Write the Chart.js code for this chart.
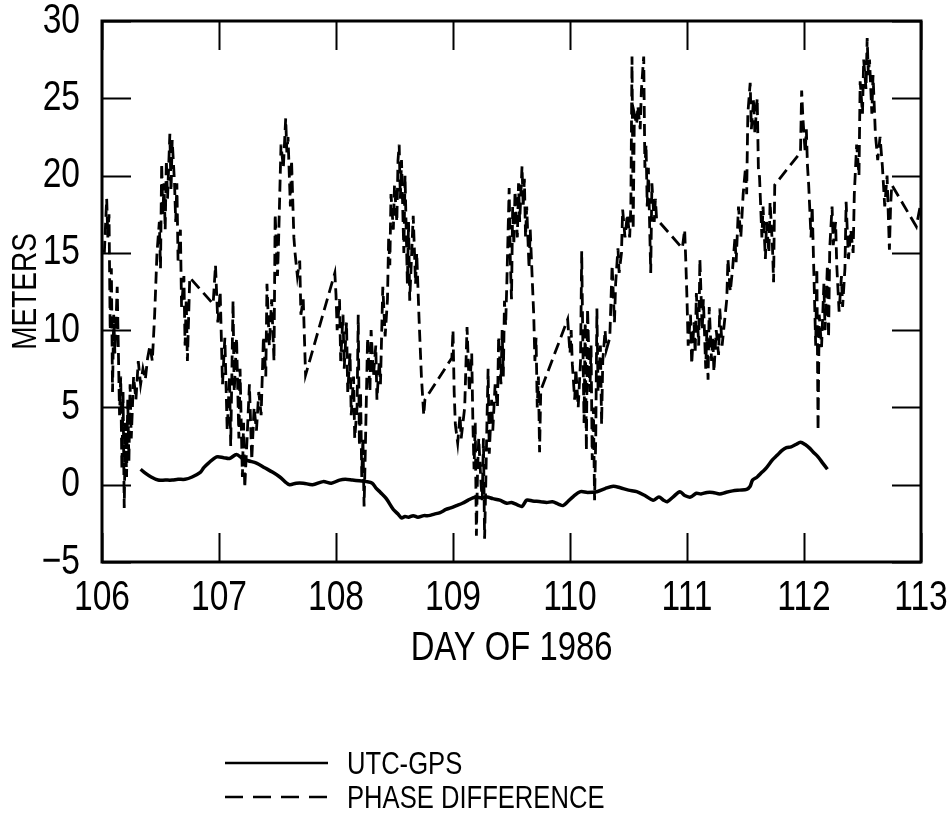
<!DOCTYPE html>
<html>
<head>
<meta charset="utf-8">
<script src="https://cdn.jsdelivr.net/npm/chart.js@4.4.0/dist/chart.umd.min.js"></script>
<style>
html,body{margin:0;padding:0;background:#fff;}
#wrap{position:relative;width:948px;height:820px;}
#legend{position:absolute;left:225px;top:746px;font-family:"Liberation Sans",Arial,sans-serif;font-size:32px;color:#000;}
#legend .row{display:flex;align-items:center;height:34px;}
#legend svg{display:block;margin-right:19px;flex:none;}
#legend span{display:inline-block;line-height:34px;white-space:nowrap;transform:scaleX(0.8);transform-origin:0 50%;}
</style>
</head>
<body>
<div id="wrap">
<canvas id="c" width="948" height="820"></canvas>
<div id="legend"></div>
</div>
<script>
const FONT = '"Liberation Sans", Arial, sans-serif';
const TEXT_SCALE_X = 0.8;

const xTickValues = [106, 107, 108, 109, 110, 111, 112, 113];
const yTickValues = [-5, 0, 5, 10, 15, 20, 25, 30];

const seriesNames = ['UTC-GPS', 'PHASE DIFFERENCE'];

const utcDays = [106.33,106.37,106.42,106.48,106.54,106.60,106.65,106.71,106.77,106.84,106.87,106.91,106.98,107.04,107.09,107.15,107.20,107.25,107.32,107.39,107.46,107.52,107.60,107.66,107.72,107.80,107.89,107.96,108.03,108.08,108.14,108.20,108.26,108.31,108.34,108.38,108.43,108.49,108.53,108.56,108.59,108.62,108.66,108.70,108.75,108.79,108.84,108.89,108.94,108.98,109.03,109.08,109.13,109.17,109.20,109.24,109.29,109.34,109.40,109.46,109.50,109.55,109.59,109.63,109.68,109.75,109.80,109.85,109.90,109.94,109.98,110.03,110.09,110.15,110.23,110.30,110.37,110.43,110.50,110.57,110.64,110.71,110.76,110.80,110.83,110.88,110.94,110.98,111.03,111.08,111.12,111.17,111.22,111.28,111.33,111.39,111.45,111.51,111.54,111.56,111.60,111.64,111.68,111.73,111.77,111.81,111.85,111.89,111.93,111.97,112.01,112.05,112.08,112.12,112.16,112.20];
const utcValues = [1.0,0.75,0.5,0.3,0.3,0.3,0.35,0.35,0.5,0.8,1.1,1.4,1.8,1.75,1.7,1.95,1.7,1.55,1.4,1.1,0.8,0.5,0.0,0.1,0.1,0.0,0.2,0.1,0.3,0.35,0.3,0.25,0.2,0.1,-0.2,-0.5,-0.9,-1.6,-1.9,-2.15,-2.05,-2.1,-2.0,-2.1,-2.0,-2.0,-1.9,-1.8,-1.6,-1.5,-1.35,-1.2,-1.0,-0.85,-0.8,-0.85,-0.8,-0.9,-1.0,-1.2,-1.15,-1.3,-1.4,-1.0,-1.05,-1.1,-1.15,-1.1,-1.25,-1.35,-1.1,-0.75,-0.45,-0.5,-0.45,-0.25,-0.1,-0.2,-0.35,-0.45,-0.7,-1.0,-0.8,-1.0,-1.1,-0.8,-0.45,-0.7,-0.8,-0.55,-0.6,-0.5,-0.5,-0.6,-0.5,-0.4,-0.35,-0.3,-0.1,0.3,0.5,0.8,1.1,1.6,1.9,2.2,2.4,2.45,2.6,2.75,2.6,2.35,2.1,1.8,1.4,1.0];

const phaseDays = [106.02,106.04,106.05,106.06,106.07,106.08,106.09,106.10,106.11,106.13,106.15,106.16,106.17,106.18,106.19,106.20,106.21,106.22,106.23,106.24,106.25,106.27,106.29,106.31,106.33,106.35,106.37,106.39,106.41,106.43,106.45,106.47,106.49,106.50,106.51,106.52,106.53,106.54,106.55,106.56,106.58,106.59,106.60,106.62,106.63,106.64,106.65,106.67,106.68,106.70,106.71,106.72,106.73,106.75,
106.95,106.97,106.99,107.01,107.03,107.05,107.07,107.09,107.10,107.12,107.13,107.15,107.17,107.18,107.20,107.21,107.22,107.24,107.26,107.28,107.30,107.32,107.34,107.36,107.38,107.40,107.41,107.43,107.45,107.47,107.48,107.50,107.51,107.53,107.55,107.57,107.58,107.59,107.61,107.62,107.64,107.65,107.67,107.69,107.70,107.72,107.74,
107.99,108.00,108.01,108.03,108.04,108.06,108.07,108.09,108.10,108.12,108.13,108.15,108.16,108.18,108.19,108.20,108.21,108.22,108.23,108.24,108.25,108.27,108.29,108.30,108.32,108.34,108.35,108.37,108.38,108.40,108.42,108.44,108.45,108.46,108.47,108.49,108.50,108.52,108.53,108.54,108.55,108.56,108.58,108.59,108.61,108.62,108.63,108.66,108.68,108.69,108.71,108.73,108.75,108.76,
108.99,109.00,109.01,109.02,109.04,109.06,109.07,109.10,109.12,109.14,109.16,109.17,109.18,109.19,109.20,109.21,109.22,109.24,109.25,109.26,109.27,109.28,109.29,109.30,109.31,109.33,109.34,109.36,109.38,109.39,109.41,109.42,109.43,109.44,109.45,109.46,109.48,109.49,109.50,109.51,109.52,109.53,109.55,109.56,109.57,109.59,109.60,109.61,109.62,109.63,109.65,109.66,109.68,109.69,109.70,109.71,109.72,109.73,109.74,109.75,
109.98,110.00,110.01,110.02,110.04,110.05,110.07,110.09,110.10,110.11,110.12,110.13,110.14,110.15,110.17,110.18,110.19,110.20,110.21,110.22,110.23,110.24,110.26,110.27,110.28,110.30,110.31,110.34,110.36,110.38,110.39,110.41,110.42,110.44,110.45,110.47,110.49,110.51,110.52,110.53,110.54,110.55,110.57,110.58,110.60,110.61,110.63,110.64,110.65,110.66,110.67,110.68,110.69,110.70,110.72,110.73,110.74,
110.96,110.98,110.99,111.00,111.01,111.03,111.04,111.06,111.07,111.08,111.10,111.11,111.13,111.14,111.16,111.17,111.18,111.19,111.21,111.22,111.23,111.25,111.27,111.28,111.30,111.32,111.34,111.35,111.37,111.39,111.41,111.42,111.44,111.46,111.48,111.50,111.51,111.52,111.54,111.55,111.57,111.58,111.60,111.61,111.62,111.64,111.65,111.67,111.68,111.70,111.71,111.73,111.74,111.75,
111.97,111.98,111.99,112.01,112.02,112.03,112.04,112.06,112.07,112.08,112.10,112.11,112.12,112.13,112.15,112.17,112.18,112.20,112.21,112.22,112.24,112.25,112.27,112.28,112.30,112.32,112.33,112.35,112.36,112.38,112.40,112.42,112.43,112.45,112.47,112.48,112.50,112.51,112.53,112.54,112.55,112.56,112.58,112.59,112.61,112.63,112.65,112.67,112.69,112.71,112.73,112.74,112.75,
112.96,113.00];
const phaseValues = [15.0,18.5,16.0,17.5,10.0,14.0,6.0,11.0,8.5,12.8,4.5,7.0,1.0,6.0,-1.5,4.0,0.5,5.5,1.5,6.5,3.0,7.0,5.5,8.0,6.5,7.5,6.8,8.2,9.0,8.0,11.0,15.0,17.0,14.0,20.8,17.5,19.5,16.5,21.0,18.5,22.7,19.0,22.3,19.5,17.0,19.5,14.5,16.5,11.5,13.5,9.0,12.0,8.0,13.4,
11.7,14.2,10.5,12.5,6.5,9.5,3.5,7.0,2.5,11.9,6.0,9.5,3.0,7.5,0.5,4.0,-0.2,3.0,6.5,1.6,5.0,3.5,6.0,4.5,9.6,7.0,13.0,9.0,12.0,8.0,17.5,13.5,16.0,22.0,20.5,23.7,21.5,22.5,18.0,21.0,16.0,15.0,13.5,14.5,11.0,12.0,7.1,
13.7,12.3,10.0,12.0,8.0,11.0,7.5,10.5,6.0,8.5,4.5,7.0,3.0,5.0,11.0,2.5,6.0,0.5,3.0,-1.4,2.0,9.5,6.0,10.0,7.0,9.0,5.5,8.0,6.5,12.8,9.6,12.0,16.0,14.2,18.8,16.5,19.4,17.0,21.0,22.0,18.5,21.0,15.0,20.0,13.0,17.0,11.9,17.4,13.0,15.0,10.7,7.0,4.5,5.5,
8.2,10.0,6.0,3.9,2.7,4.5,3.0,5.0,10.2,6.0,8.5,4.0,1.0,4.0,-3.3,1.0,3.0,0.0,-1.0,3.0,-3.5,0.0,4.0,7.5,2.0,5.5,3.5,6.5,5.0,9.6,6.5,10.0,7.0,11.9,10.3,13.0,19.2,14.5,12.0,18.0,15.5,19.0,16.0,19.5,17.0,20.6,18.0,19.8,16.0,18.0,14.0,16.5,12.8,11.0,8.0,9.5,5.0,7.0,2.1,6.1,
10.7,8.5,10.0,7.8,5.5,7.5,5.0,8.0,15.1,9.0,4.0,10.5,2.2,11.4,6.0,9.0,1.6,5.0,-1.0,3.0,11.4,6.0,9.0,3.9,8.0,10.0,8.7,9.5,14.2,10.5,13.0,15.3,13.7,15.0,17.8,16.0,17.5,16.0,18.0,27.7,16.5,24.0,23.3,24.5,23.0,25.5,27.7,20.5,22.0,18.0,20.5,17.0,13.7,19.5,17.0,18.5,17.2,
15.3,16.5,14.4,12.0,9.0,11.0,7.8,10.5,8.5,12.4,9.0,14.6,10.0,12.0,7.5,10.0,6.8,11.5,8.0,9.6,7.3,10.0,8.4,11.4,9.0,10.5,12.0,14.6,12.5,14.0,16.0,14.4,18.0,16.0,18.8,20.5,18.8,24.0,26.0,23.0,25.0,22.7,25.0,20.5,19.9,16.0,18.0,14.6,17.0,15.0,18.3,15.5,13.1,19.4,
21.5,25.5,23.8,21.5,23.0,20.6,19.4,16.0,18.0,15.0,9.0,14.0,3.5,11.0,8.9,13.0,10.0,14.2,9.5,15.3,18.0,15.5,17.0,14.2,11.2,13.5,11.5,14.0,18.3,14.6,16.5,15.0,18.8,22.0,20.0,26.1,24.0,27.5,25.6,28.9,26.5,27.5,24.0,26.5,22.7,21.0,22.5,20.6,18.0,20.0,15.2,18.0,19.4,
16.7,18.3];

const toPoints = (xs, ys) => xs.map((d, i) => ({ x: d, y: ys[i] }));

// Narrow the installed sans face horizontally so the text reads like the condensed original.
const condensePlugin = {
  id: 'condense',
  beforeInit(chart) {
    const ctx = chart.ctx;
    const orig = ctx.fillText;
    ctx.fillText = function (text, x, y) {
      this.save();
      this.translate(x, y);
      this.scale(TEXT_SCALE_X, 1);
      orig.call(this, text, 0, 0);
      this.restore();
    };
  }
};

const framePlugin = {
  id: 'frame',
  afterDatasetsDraw(chart) {
    const { ctx, chartArea: { left, right, top, bottom }, scales: { x, y } } = chart;
    const L = 29;
    ctx.save();
    ctx.strokeStyle = '#000';
    ctx.lineWidth = 2;
    ctx.beginPath();
    xTickValues.forEach(v => {
      const px = Math.round(x.getPixelForValue(v)) + 0.5;
      ctx.moveTo(px, top); ctx.lineTo(px, top + L);
      ctx.moveTo(px, bottom); ctx.lineTo(px, bottom - L);
    });
    yTickValues.forEach(v => {
      const py = Math.round(y.getPixelForValue(v)) + 0.5;
      ctx.moveTo(left, py); ctx.lineTo(left + L, py);
      ctx.moveTo(right, py); ctx.lineTo(right - L, py);
    });
    ctx.stroke();
    ctx.lineWidth = 3;
    ctx.strokeRect(left, top, right - left, bottom - top);
    ctx.restore();
  }
};

const chart = new Chart(document.getElementById('c'), {
  type: 'line',
  data: {
    datasets: [
      { label: seriesNames[0], data: toPoints(utcDays, utcValues), borderColor: '#000', borderWidth: 3.5, pointRadius: 0, fill: false, tension: 0.3 },
      { label: seriesNames[1], data: toPoints(phaseDays, phaseValues), borderColor: '#000', borderWidth: 2.8, borderDash: [12, 6], pointRadius: 0, fill: false, tension: 0 }
    ]
  },
  options: {
    responsive: false,
    animation: false,
    devicePixelRatio: 1,
    layout: { padding: { left: 0, top: 21, right: 27, bottom: 147 } },
    plugins: { legend: { display: false }, tooltip: { enabled: false } },
    scales: {
      x: {
        type: 'linear', min: 106, max: 113,
        afterBuildTicks: s => { s.ticks = xTickValues.map(v => ({ value: v })); },
        afterFit: s => { s.height = 111; s.paddingLeft = 0; s.paddingRight = 0; },
        grid: { display: false }, border: { display: false },
        ticks: { padding: 3, color: '#000', maxRotation: 0, autoSkip: false, font: { family: FONT, size: 42, lineHeight: 1.2 } },
        title: { display: true, text: 'DAY OF 1986', color: '#000', font: { family: FONT, size: 41, lineHeight: 1.2 }, padding: { top: 0, bottom: 0 } }
      },
      y: {
        type: 'linear', min: -5, max: 30,
        afterBuildTicks: s => { s.ticks = yTickValues.map(v => ({ value: v })); },
        afterFit: s => { s.width = 102; s.paddingTop = 0; s.paddingBottom = 0; },
        grid: { display: false }, border: { display: false },
        ticks: { padding: 14, color: '#000', font: { family: FONT, size: 42, lineHeight: 1 }, callback: v => v < 0 ? '\u2212' + Math.abs(v) : String(v) },
        title: { display: true, text: 'METERS', color: '#000', font: { family: FONT, size: 35, lineHeight: 1.2 }, padding: { top: 5, bottom: 0 } }
      }
    }
  },
  plugins: [condensePlugin, framePlugin]
});

const legendEl = document.getElementById('legend');
chart.data.datasets.forEach(ds => {
  const row = document.createElement('div');
  row.className = 'row';
  const dash = ds.borderDash ? ' stroke-dasharray="18 10"' : '';
  row.innerHTML = '<svg width="103" height="34"><line x1="0" y1="17" x2="103" y2="17" stroke="' + ds.borderColor + '" stroke-width="2.5"' + dash + '/></svg><span>' + ds.label + '</span>';
  legendEl.appendChild(row);
});
</script>
</body>
</html>
